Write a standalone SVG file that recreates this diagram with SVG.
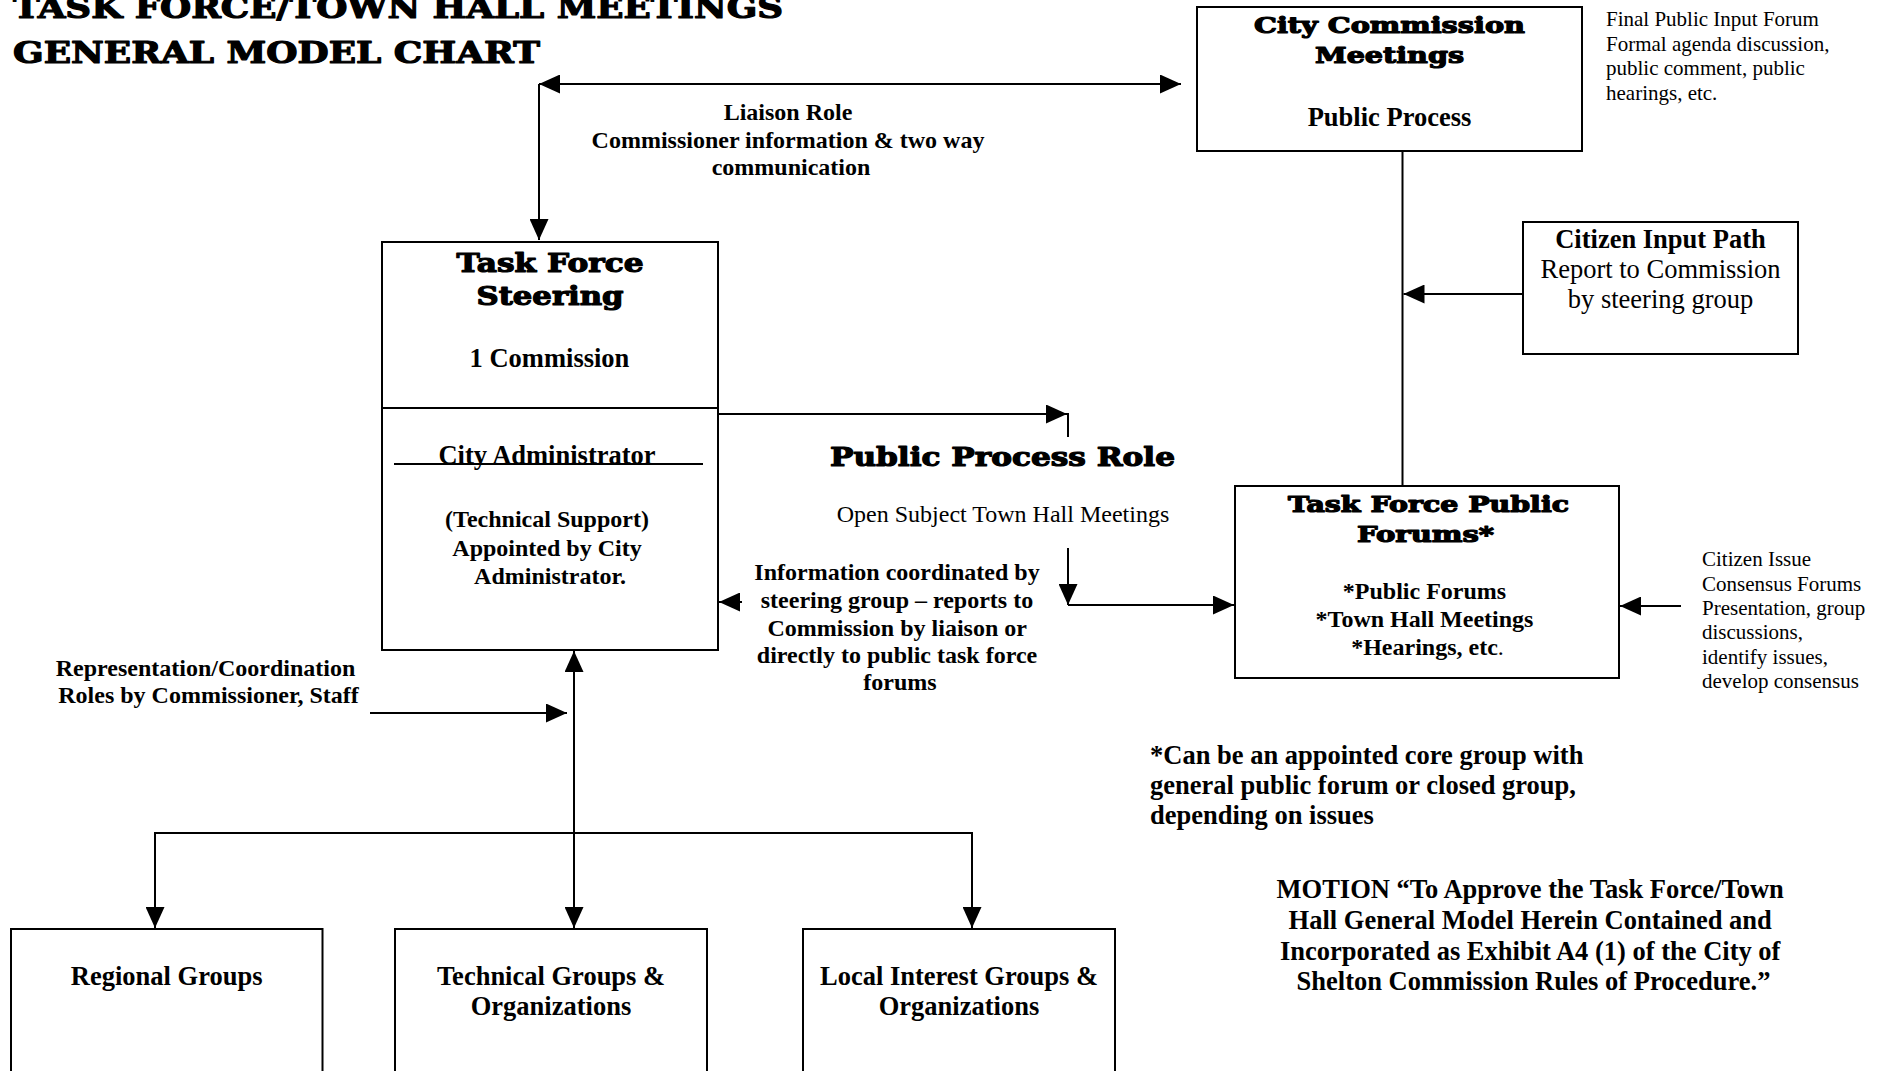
<svg xmlns="http://www.w3.org/2000/svg" width="1886" height="1071" viewBox="0 0 1886 1071">
  <style>
    .box { fill: #fff; stroke: #000; stroke-width: 2; }
    .ln { fill: none; stroke: #000; stroke-width: 2; }
    .hv { font-family: "DejaVu Serif", "Liberation Serif", serif; font-weight: bold; fill: #000; stroke: #000; stroke-width: 1.2; stroke-linejoin: round; }
    .b { font-family: "Liberation Serif", "Times New Roman", serif; font-weight: bold; fill: #000; }
    .r { font-family: "Liberation Serif", "Times New Roman", serif; fill: #000; }
    .c { text-anchor: middle; }
  </style>
  <defs>
    <marker id="arr" viewBox="0 0 21 19" markerUnits="userSpaceOnUse" markerWidth="21" markerHeight="19" refX="21" refY="9.5" orient="auto-start-reverse">
      <path d="M0,0 L21,9.5 L0,19 Z" fill="#000"/>
    </marker>
  </defs>

  <rect width="1886" height="1071" fill="#fff"/>

  <!-- title -->
  <g id="title">
    <text class="hv" x="13" y="17.5" font-size="30" textLength="770" lengthAdjust="spacingAndGlyphs">TASK FORCE/TOWN HALL MEETINGS</text>
    <text class="hv" x="13" y="63" font-size="30" textLength="527" lengthAdjust="spacingAndGlyphs">GENERAL MODEL CHART</text>
  </g>

  <!-- connectors -->
  <g id="connectors">
    <!-- liaison: steering <-> commission -->
    <path class="ln" d="M539,84 L1181,84" marker-start="url(#arr)" marker-end="url(#arr)"/>
    <path class="ln" d="M539,84 L539,240" marker-end="url(#arr)"/>
    <!-- commission down to public forums -->
    <path class="ln" d="M1402.5,151 L1402.5,486"/>
    <!-- citizen input path into the spine -->
    <path class="ln" d="M1523,294 L1403.5,294" marker-end="url(#arr)"/>
    <!-- steering to public process role -->
    <path class="ln" d="M719,414 L1067,414" marker-end="url(#arr)"/>
    <path class="ln" d="M1068,413 L1068,437"/>
    <!-- town hall meetings to public forums -->
    <path class="ln" d="M1068,548 L1068,605" marker-end="url(#arr)"/>
    <path class="ln" d="M1068,605 L1234,605" marker-end="url(#arr)"/>
    <!-- information back to steering -->
    <path class="ln" d="M742,602 L719,602" marker-end="url(#arr)"/>
    <!-- citizen issue forums into public forums -->
    <path class="ln" d="M1681,606 L1620,606" marker-end="url(#arr)"/>
    <!-- representation / coordination -->
    <path class="ln" d="M370,713 L567,713" marker-end="url(#arr)"/>
    <path class="ln" d="M574,651 L574,928" marker-start="url(#arr)" marker-end="url(#arr)"/>
    <!-- branch to groups -->
    <path class="ln" d="M155,928 L155,833 L972,833 L972,928" marker-start="url(#arr)" marker-end="url(#arr)"/>
  </g>

  <!-- city commission meetings -->
  <g id="city-commission">
    <rect class="box" x="1197" y="7" width="385" height="144"/>
    <text class="hv c" x="1389.5" y="33" font-size="22" textLength="271" lengthAdjust="spacingAndGlyphs">City Commission</text>
    <text class="hv c" x="1389.5" y="63" font-size="22" textLength="149" lengthAdjust="spacingAndGlyphs">Meetings</text>
    <text class="b c" x="1389.5" y="126" font-size="26.5">Public Process</text>
  </g>

  <g id="final-forum-note">
    <text class="r" font-size="21">
      <tspan x="1606" y="26">Final Public Input Forum</tspan>
      <tspan x="1606" y="50.5">Formal agenda discussion,</tspan>
      <tspan x="1606" y="75">public comment, public</tspan>
      <tspan x="1606" y="99.5">hearings, etc.</tspan>
    </text>
  </g>

  <g id="liaison-role">
    <text class="b c" font-size="24">
      <tspan x="791" y="119.5">Liaison Role</tspan>
      <tspan x="791" y="147.5">Commissioner information &amp; two way</tspan>
      <tspan x="791" y="175">communication</tspan>
    </text>
  </g>

  <!-- citizen input path -->
  <g id="citizen-input">
    <rect class="box" x="1523" y="222" width="275" height="132"/>
    <text class="b c" x="1660.5" y="248" font-size="26.5">Citizen Input Path</text>
    <text class="r c" x="1660.5" y="278" font-size="26.5">Report to Commission</text>
    <text class="r c" x="1660.5" y="308" font-size="26.5">by steering group</text>
  </g>

  <!-- task force steering -->
  <g id="steering">
    <rect class="box" x="382" y="242" width="336" height="408"/>
    <line class="ln" x1="382" y1="408" x2="718" y2="408"/>
    <text class="hv c" x="550" y="272" font-size="26" textLength="187" lengthAdjust="spacingAndGlyphs">Task Force</text>
    <text class="hv c" x="550" y="305" font-size="26" textLength="147" lengthAdjust="spacingAndGlyphs">Steering</text>
    <text class="b c" x="549.5" y="367" font-size="26.5">1 Commission</text>
    <text class="b c" x="547" y="464" font-size="26.5">City Administrator</text>
    <line class="ln" x1="394" y1="464" x2="703" y2="464"/>
    <text class="b c" font-size="24">
      <tspan x="550" y="527">(Technical Support)</tspan>
      <tspan x="550" y="555.5">Appointed by City</tspan>
      <tspan x="550" y="584">Administrator.</tspan>
    </text>
  </g>

  <!-- public process role -->
  <g id="public-process-role">
    <text class="hv c" x="1002.5" y="466" font-size="26" textLength="345" lengthAdjust="spacingAndGlyphs">Public Process Role</text>
    <text class="r c" x="1003" y="522" font-size="24">Open Subject Town Hall Meetings</text>
  </g>

  <g id="information-note">
    <text class="b c" font-size="24">
      <tspan x="900" y="580">Information coordinated by</tspan>
      <tspan x="900" y="608">steering group – reports to</tspan>
      <tspan x="900" y="635.5">Commission by liaison or</tspan>
      <tspan x="900" y="663">directly to public task force</tspan>
      <tspan x="900" y="690">forums</tspan>
    </text>
  </g>

  <!-- task force public forums -->
  <g id="public-forums">
    <rect class="box" x="1235" y="486" width="384" height="192"/>
    <text class="hv c" x="1428.5" y="512" font-size="21.5" textLength="281" lengthAdjust="spacingAndGlyphs">Task Force Public</text>
    <text class="hv c" x="1425.5" y="542" font-size="21.5" textLength="137" lengthAdjust="spacingAndGlyphs">Forums*</text>
    <text class="b c" font-size="24">
      <tspan x="1427.5" y="599">*Public Forums</tspan>
      <tspan x="1427.5" y="627">*Town Hall Meetings</tspan>
      <tspan x="1427.5" y="654.5">*Hearings, etc<tspan font-weight="normal">.</tspan></tspan>
    </text>
  </g>

  <g id="citizen-issue-note">
    <text class="r" font-size="21">
      <tspan x="1702" y="566">Citizen Issue</tspan>
      <tspan x="1702" y="590.5">Consensus Forums</tspan>
      <tspan x="1702" y="615">Presentation, group</tspan>
      <tspan x="1702" y="639">discussions,</tspan>
      <tspan x="1702" y="663.5">identify issues,</tspan>
      <tspan x="1702" y="688">develop consensus</tspan>
    </text>
  </g>

  <g id="representation-note">
    <text class="b c" font-size="24">
      <tspan x="208.5" y="676">Representation/Coordination</tspan>
      <tspan x="208.5" y="703">Roles by Commissioner, Staff</tspan>
    </text>
  </g>

  <!-- group boxes -->
  <g id="regional-groups">
    <rect class="box" x="11" y="929" width="311.5" height="160"/>
    <text class="b c" x="166.7" y="985" font-size="26.5">Regional Groups</text>
  </g>
  <g id="technical-groups">
    <rect class="box" x="395" y="929" width="312" height="160"/>
    <text class="b c" x="551" y="985" font-size="26.5">Technical Groups &amp;</text>
    <text class="b c" x="551" y="1015" font-size="26.5">Organizations</text>
  </g>
  <g id="local-interest-groups">
    <rect class="box" x="803" y="929" width="312" height="160"/>
    <text class="b c" x="959" y="985" font-size="26.5">Local Interest Groups &amp;</text>
    <text class="b c" x="959" y="1014.5" font-size="26.5">Organizations</text>
  </g>

  <g id="forum-footnote">
    <text class="b" font-size="26.5">
      <tspan x="1150" y="764">*Can be an appointed core group with</tspan>
      <tspan x="1150" y="794">general public forum or closed group,</tspan>
      <tspan x="1150" y="824">depending on issues</tspan>
    </text>
  </g>

  <g id="motion">
    <text class="b c" font-size="26.5">
      <tspan x="1533.5" y="898">MOTION “To Approve the Task Force/Town</tspan>
      <tspan x="1533.5" y="929">Hall General Model Herein Contained and</tspan>
      <tspan x="1533.5" y="960">Incorporated as Exhibit A4 (1) of the City of</tspan>
      <tspan x="1533.5" y="990">Shelton Commission Rules of Procedure.”</tspan>
    </text>
  </g>
</svg>
